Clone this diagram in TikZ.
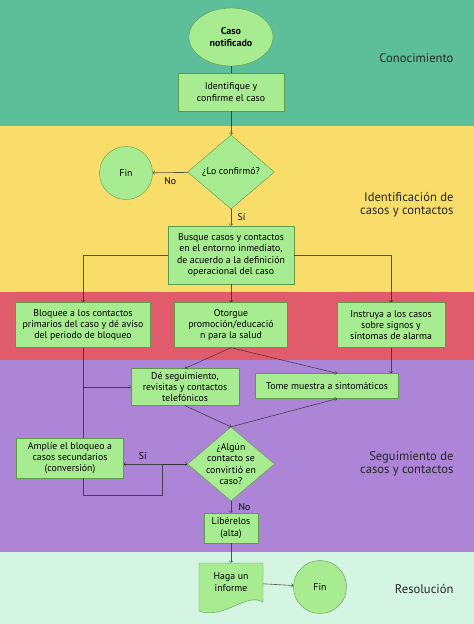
\documentclass[tikz,border=0pt]{standalone}
\usepackage{fontspec}
\setmainfont{PT Sans}
\usetikzlibrary{shapes.geometric}

\definecolor{bandteal}{HTML}{5CBF99}
\definecolor{bandyellow}{HTML}{F8DD6B}
\definecolor{bandred}{HTML}{E05B6B}
\definecolor{bandpurple}{HTML}{AD85D6}
\definecolor{bandmint}{HTML}{D3F5E1}
\definecolor{nodefill}{HTML}{A8EC92}
\definecolor{nodeline}{HTML}{5E9A4A}
\definecolor{linecol}{HTML}{2E2E2E}

\begin{document}
\begin{tikzpicture}[
  x=1pt, y=-1pt,
  box/.style={rectangle, draw=nodeline, fill=nodefill, align=center, inner sep=1pt, font=\fontsize{9.8}{11.3}\selectfont},
  decision/.style={diamond, draw=nodeline, fill=nodefill, inner sep=0pt, minimum width=87pt, minimum height=74pt},
  ending/.style={circle, draw=nodeline, fill=nodefill, minimum size=53pt, font=\fontsize{9.8}{11.3}\selectfont},
  phase/.style={anchor=east, align=right, font=\fontsize{12.6}{12.8}\selectfont, text=black!85},
  arrow/.style={->, draw=linecol, draw opacity=0.8, line width=0.6pt},
  link/.style={draw=linecol, draw opacity=0.8, line width=0.6pt},
  tag/.style={font=\fontsize{9.8}{11.3}\selectfont}
]
\useasboundingbox (0,0) rectangle (474,624);

% Phase bands
\fill[bandteal] (0,0) rectangle (474,126);
\fill[bandyellow] (0,126) rectangle (474,292);
\fill[bandred] (0,292) rectangle (474,360);
\fill[bandpurple] (0,360) rectangle (474,552);
\fill[bandmint] (0,552) rectangle (474,624);

\node[phase] (ph1) at (457,58) {Conocimiento};
\node[phase] (ph2) at (457,205) {Identificación de\\casos y contactos};
\node[phase] (ph3) at (457,464) {Seguimiento de\\casos y contactos};
\node[phase] (ph4) at (457,589) {Resolución};

% Steps
\node[ellipse, draw=nodeline, fill=nodefill, minimum width=84pt, minimum height=58pt, inner sep=0pt, align=center, font=\fontsize{10}{11.5}\selectfont\bfseries] (caso) at (231,37) {Caso\\notificado};
\node[box, minimum width=106pt, minimum height=38pt] (ident) at (231,92) {Identifique y\\confirme el caso};
\node[decision, label={[tag]center:¿Lo confirmó?}] (conf) at (231,172) {};
\node[ending] (fin1) at (126,173) {Fin};
\node[box, minimum width=126pt, minimum height=58pt] (busque) at (231,255) {Busque casos y contactos\\en el entorno inmediato,\\de acuerdo a la definición\\operacional del caso};

\node[box, minimum width=135pt, minimum height=45pt] (bloquee) at (83,325) {Bloquee a los contactos\\primarios del caso y dé aviso\\del periodo de bloqueo};
\node[box, minimum width=113pt, minimum height=45pt] (otorgue) at (231,325) {Otorgue\\promoción/educació\\n para la salud};
\node[box, minimum width=108pt, minimum height=45pt] (instruya) at (391,325) {Instruya a los casos\\sobre signos y\\síntomas de alarma};

\node[box, minimum width=108pt, minimum height=37pt] (seguim) at (185,387) {Dé seguimiento,\\revisitas y contactos\\telefónicos};
\node[box, minimum width=143pt, minimum height=25pt] (muestra) at (327,386) {Tome muestra a sintomáticos};

\node[decision, label={[tag, align=center]center:¿Algún\\contacto se\\convirtió en\\caso?}] (alg) at (231,464) {};
\node[box, minimum width=107pt, minimum height=40pt] (amplie) at (70,458) {Amplíe el bloqueo a\\casos secundarios\\(conversión)};

\node[box, minimum width=54pt, minimum height=30pt] (libere) at (231,528) {Libérelos\\(alta)};

% Document outline
\filldraw[draw=nodeline, fill=nodefill] (199,563) -- (263,563) -- (263,602)
  .. controls (246,592) and (224,620) .. (199,611) -- cycle;
\node[align=center, minimum width=64pt, minimum height=38pt, font=\fontsize{9.8}{11.3}\selectfont] (informe) at (231,582) {Haga un\\informe};
\node[ending] (fin2) at (320,587) {Fin};

% Connectors
\draw[link] (caso) -- (ident);
\draw[arrow] (ident) -- (conf);
\draw[arrow] (conf) -- (fin1) node[tag, pos=0.5, below=1pt] {No};
\draw[arrow] (conf) -- (busque) node[tag, midway, right=3pt] {Sí};
\draw[arrow] (busque.west) -| (bloquee.north);
\draw[arrow] (busque.east) -| (instruya.north);
\draw[arrow] (busque) -- (otorgue);
\draw[arrow] (otorgue.south) -- (seguim.north);
\draw[arrow] (otorgue.south) -- ([xshift=10pt]muestra.north);
\draw[arrow] (instruya.south) -- (instruya.south |- muestra.north);
\coordinate (split) at (bloquee.south |- seguim.west);
\draw[link] (bloquee.south) -- (bloquee.south |- amplie.north);
\draw[arrow] (split) -- (seguim.west);
\draw[arrow] (seguim.south) -- (alg.north);
\draw[arrow] (alg.north) -- ([xshift=10pt]muestra.south);
\draw[arrow] (alg.west) -- (amplie.east |- alg.west) node[tag, pos=0.7, above=1pt] {Sí};
\coordinate (loop) at (162,495);
\draw[arrow] (bloquee.south |- amplie.south) |- (loop) |- (alg.west);
\draw[arrow] (alg) -- (libere) node[tag, midway, right=4pt] {No};
\draw[arrow] (libere) -- (informe);
\draw[arrow] (informe) -- (fin2);

\end{tikzpicture}
\end{document}
